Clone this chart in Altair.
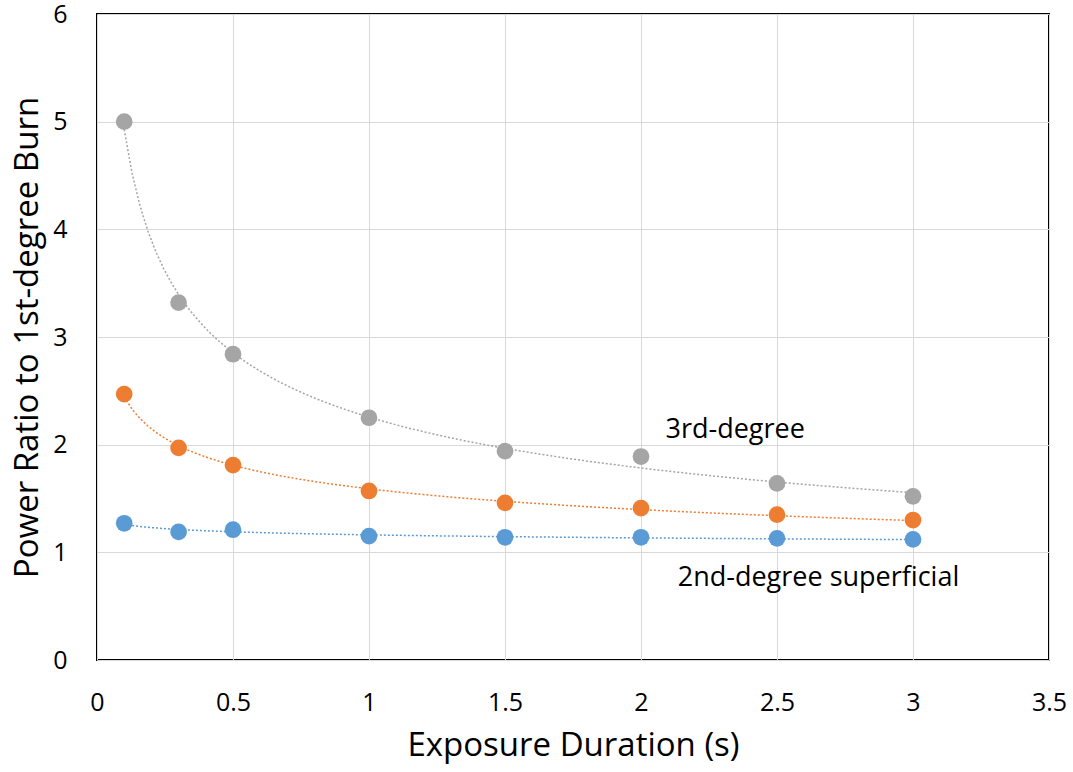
import altair as alt
import pandas as pd

# Exposure durations (s)
durations = [0.1, 0.3, 0.5, 1.0, 1.5, 2.0, 2.5, 3.0]

# Power ratio relative to a 1st-degree burn
third_degree = [5.00, 3.32, 2.84, 2.25, 1.94, 1.89, 1.64, 1.52]
second_deep = [2.47, 1.97, 1.81, 1.57, 1.46, 1.41, 1.35, 1.30]
second_superficial = [1.27, 1.19, 1.21, 1.15, 1.14, 1.14, 1.13, 1.12]

series_names = ["3rd-degree", "2nd-degree deep", "2nd-degree superficial"]
series_colors = ["#A5A5A5", "#ED7D31", "#5B9BD5"]

rows = []
for name, vals in zip(series_names, [third_degree, second_deep, second_superficial]):
    for d, v in zip(durations, vals):
        rows.append({"duration": d, "ratio": v, "series": name})
df = pd.DataFrame(rows)

FONT = "Open Sans"
LABEL_SIZE = 25
TITLE_SIZE = 33
NOTE_SIZE = 27

common_axis = dict(
    labelFontSize=LABEL_SIZE,
    titleFontSize=TITLE_SIZE,
    ticks=False,
    domain=False,
    gridColor="#D9D9D9",
    labelColor="#000000",
    titleColor="#000000",
    titleFontWeight="normal",
    labelFont=FONT,
    titleFont=FONT,
    labelFlush=False,
    format="~g",
)

x_enc = alt.X(
    "duration:Q",
    scale=alt.Scale(domain=[0, 3.5], nice=False),
    axis=alt.Axis(
        values=[0, 0.5, 1, 1.5, 2, 2.5, 3, 3.5],
        title="Exposure Duration (s)",
        labelPadding=30,
        titlePadding=14,
        **common_axis,
    ),
)
y_enc = alt.Y(
    "ratio:Q",
    scale=alt.Scale(domain=[0, 6], nice=False),
    axis=alt.Axis(
        values=[0, 1, 2, 3, 4, 5, 6],
        title="Power Ratio to 1st-degree Burn",
        labelPadding=30,
        titlePadding=8,
        **common_axis,
    ),
)
color_enc = alt.Color(
    "series:N",
    scale=alt.Scale(domain=series_names, range=series_colors),
    legend=None,
)

base = alt.Chart(df)

# Power-law trendlines, one per series
trend = base.transform_regression(
    "duration", "ratio", groupby=["series"], method="pow", extent=[0.1, 3.0]
).mark_line(strokeDash=[2, 2], strokeWidth=1.5).encode(
    x=x_enc, y=y_enc, color=color_enc
)

points = base.mark_circle(size=280, opacity=1).encode(
    x=x_enc, y=y_enc, color=color_enc
)

label_3rd = alt.Chart(pd.DataFrame({"t": ["3rd-degree"]})).mark_text(
    align="left", baseline="middle", fontSize=NOTE_SIZE, font=FONT, color="#000000"
).encode(x=alt.datum(2.09), y=alt.datum(2.14), text="t:N")

label_2nd = alt.Chart(pd.DataFrame({"t": ["2nd-degree superficial"]})).mark_text(
    align="left", baseline="middle", fontSize=NOTE_SIZE, font=FONT, color="#000000"
).encode(x=alt.datum(2.135), y=alt.datum(0.76), text="t:N")

chart = (
    alt.layer(trend, points, label_3rd, label_2nd)
    .properties(
        width=952,
        height=646,
        autosize=alt.AutoSizeParams(type="none"),
        padding={"left": 97, "top": 14, "right": 24, "bottom": 112},
        background="#FFFFFF",
    )
    .configure_view(stroke="#000000", strokeWidth=2)
)

chart.save("out.html", embed_options={"renderer": "svg", "actions": False})
